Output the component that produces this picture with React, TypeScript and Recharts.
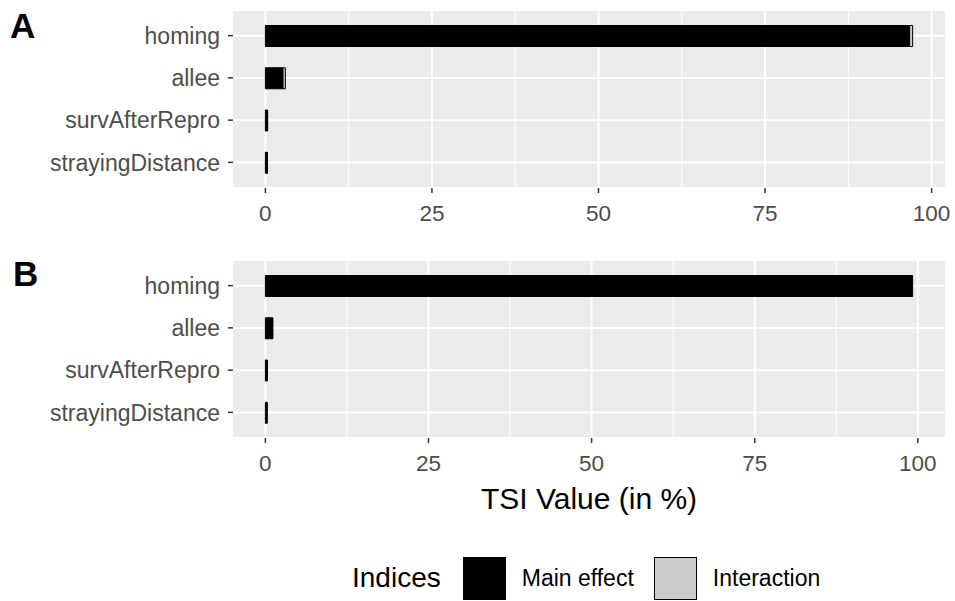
import React from 'react';
import { BarChart, Bar, XAxis, YAxis, CartesianGrid } from 'recharts';

const params = ['homing', 'allee', 'survAfterRepro', 'strayingDistance'];
const mainA = [96.7, 2.65, 0.3, 0.25];
const interA = [0.45, 0.35, 0.05, 0.05];
const mainB = [99.1, 1.1, 0.3, 0.25];
const interB = [0.1, 0.05, 0.02, 0.02];
const xTicks = [0, 25, 50, 75, 100];
const minorTicks = [12.5, 37.5, 62.5, 87.5];
const seriesNames = ['Main effect', 'Interaction'];
const seriesFill = ['#000000', '#CCCCCC'];

const FONT = '"Liberation Sans", Arial, sans-serif';

function toRows(main: number[], inter: number[]) {
  return params.map((name, i) => ({ name, main: main[i], inter: inter[i] }));
}

function Panel({ data, label, labelPos, top, height, showTitle }: {
  data: { name: string; main: number; inter: number }[];
  label: string;
  labelPos: [number, number];
  top: number;
  height: number;
  showTitle?: boolean;
}) {
  // ggplot-like 5% expansion on both sides
  const max = Math.max(...data.map((d) => d.main + d.inter));
  const domain = [-0.05 * max, max * 1.05];

  return (
    <div style={{ position: 'absolute', left: 0, top, width: 955, height }}>
      <div
        style={{
          position: 'absolute',
          left: labelPos[0],
          top: labelPos[1],
          fontFamily: FONT,
          fontWeight: 'bold',
          fontSize: 35,
          lineHeight: 1,
          color: '#000',
          zIndex: 2,
        }}
      >
        {label}
      </div>
      <BarChart
        width={955}
        height={height}
        data={data}
        layout="vertical"
        margin={{ top: 10, right: 10, bottom: 0, left: 0 }}
        barSize={21}
      >
        <CartesianGrid
          fill="#EBEBEB"
          horizontal={false}
          verticalValues={minorTicks}
          stroke="#FFFFFF"
          strokeWidth={1}
        />
        <CartesianGrid verticalValues={xTicks} stroke="#FFFFFF" strokeWidth={2} />
        <XAxis
          type="number"
          domain={domain}
          ticks={xTicks}
          allowDataOverflow
          height={showTitle ? 80 : 42}
          axisLine={false}
          tickSize={5}
          tickMargin={12}
          tickLine={{ stroke: '#333333', strokeWidth: 1.5 }}
          tick={{ fontSize: 22.5, fill: '#4D4D4D', fontFamily: FONT }}
          label={
            showTitle
              ? {
                  value: 'TSI Value (in %)',
                  position: 'insideBottom',
                  offset: 9,
                  style: { fontSize: 30, fill: '#000', fontFamily: FONT },
                }
              : undefined
          }
        />
        <YAxis
          type="category"
          dataKey="name"
          width={233}
          padding={{ top: 4.5, bottom: 4.5 }}
          axisLine={false}
          tickSize={5}
          tickMargin={8}
          tickLine={{ stroke: '#333333', strokeWidth: 1.5 }}
          tick={{ fontSize: 23, fill: '#4D4D4D', fontFamily: FONT }}
        />
        <Bar
          dataKey="main"
          name={seriesNames[0]}
          stackId="tsi"
          fill={seriesFill[0]}
          stroke="#000"
          strokeWidth={1}
          isAnimationActive={false}
        />
        <Bar
          dataKey="inter"
          name={seriesNames[1]}
          stackId="tsi"
          fill={seriesFill[1]}
          stroke="#000"
          strokeWidth={1}
          isAnimationActive={false}
        />
      </BarChart>
    </div>
  );
}

export default function App() {
  return (
    <div
      style={{
        position: 'absolute',
        left: 0,
        top: 0,
        width: 955,
        height: 601,
        background: '#fff',
        fontFamily: FONT,
      }}
    >
      <Panel data={toRows(mainA, interA)} label="A" labelPos={[10, 7.5]} top={0} height={230} />
      <Panel
        data={toRows(mainB, interB)}
        label="B"
        labelPos={[13, 5.5]}
        top={250}
        height={268}
        showTitle
      />

      {/* legend */}
      <div
        style={{
          position: 'absolute',
          left: 352,
          top: 556,
          height: 44,
          display: 'flex',
          alignItems: 'center',
          fontFamily: FONT,
          color: '#000',
        }}
      >
        <span style={{ fontSize: 28, marginRight: 22 }}>Indices</span>
        {seriesNames.map((s, i) => (
          <React.Fragment key={s}>
            <div
              style={{
                width: 41,
                height: 41,
                background: seriesFill[i],
                border: '1.5px solid #000',
              }}
            />
            <span style={{ fontSize: 23, marginLeft: 16, marginRight: 20 }}>{s}</span>
          </React.Fragment>
        ))}
      </div>
    </div>
  );
}
